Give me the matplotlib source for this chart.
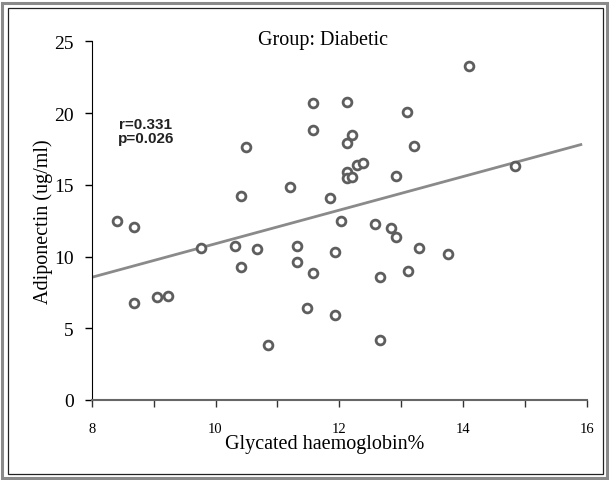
import matplotlib
matplotlib.use("Agg")
import matplotlib.pyplot as plt
from matplotlib.patches import Rectangle

# HbA1c (%) values
hba1c = [8.41, 8.69, 8.68, 9.05, 9.24, 9.77, 10.31, 10.41, 10.41, 10.49,
         10.67, 10.85, 11.21, 11.31, 11.31, 11.48, 11.57, 11.57, 11.57, 11.85,
         11.93, 11.93, 12.03, 12.12, 12.12, 12.21, 12.12, 12.12, 12.20, 12.29,
         12.38, 12.57, 12.84, 12.92, 12.92, 13.09, 13.21, 13.29, 13.11, 12.66,
         12.66, 13.75, 14.10, 14.83]
# Adiponectin (ug/ml) values
adiponectin = [12.50, 12.03, 6.74, 7.20, 7.27, 10.57, 10.71, 14.24, 9.25, 17.61,
               10.52, 3.86, 14.85, 10.76, 9.60, 6.39, 20.72, 18.82, 8.85, 14.10,
               10.32, 5.92, 12.45, 20.75, 17.89, 18.45, 15.92, 15.47, 15.57, 16.35,
               16.50, 12.27, 11.97, 11.36, 15.64, 20.05, 17.73, 10.57, 8.99, 8.60,
               4.18, 10.18, 23.30, 16.33]
# regression line endpoints
fit_x = [8.0, 15.9]
fit_y = [8.55, 17.8]

x_ticks = [8, 9, 10, 11, 12, 13, 14, 15, 16]
x_ticklabels = ["8", "", "10", "", "12", "", "14", "", "16"]
y_ticks = [0, 5, 10, 15, 20, 25]

title = "Group: Diabetic"
xlabel = "Glycated haemoglobin%"
ylabel = "Adiponectin (ug/ml)"
stats_text = "r=0.331\np=0.026"

W, H = 609, 481
fig = plt.figure(figsize=(W / 100, H / 100), dpi=100)
serif = "Liberation Serif"

ax = fig.add_axes([91.7 / W, 1 - 401 / H, (587 - 91.7) / W, (401 - 42.3) / H])
ax.plot(fit_x, fit_y, color="#8a8a8a", lw=2.0, zorder=2)
ax.scatter(hba1c, adiponectin, s=40, facecolors="white", edgecolors="#5e5e5e",
           linewidths=2.0, zorder=3)

ax.set_xlim(8, 16)
ax.set_ylim(0, 25)
ax.set_xticks(x_ticks)
ax.set_xticklabels(x_ticklabels, fontfamily=serif, fontsize=10.5)
ax.set_yticks(y_ticks)
ax.set_yticklabels([str(v) for v in y_ticks], fontfamily=serif, fontsize=14)
ax.tick_params(axis="x", direction="out", length=5, width=1, pad=11, color="#333333")
ax.tick_params(axis="y", direction="out", length=5, width=1, pad=8)
for s in ["top", "right"]:
    ax.spines[s].set_visible(False)
ax.spines["left"].set_color("black")
ax.spines["bottom"].set_color("#666666")
ax.spines["bottom"].set_linewidth(1.5)

ax.set_xlabel(xlabel, fontfamily=serif, fontsize=14.5, labelpad=0)
ax.xaxis.set_label_coords(0.471, -0.095)
ax.set_ylabel(ylabel, fontfamily=serif, fontsize=14.5, labelpad=1)

fig.text(323 / W, 1 - 41 / H, title, fontfamily=serif, fontsize=14.5,
         ha="center", va="center")
fig.text(146 / W, 1 - 132 / H, stats_text, fontfamily="Liberation Sans",
         fontweight="bold", fontsize=11, ha="center", va="center",
         color="#222222", linespacing=1.0)

# double frame
fig.patches.append(Rectangle((2 / W, 2 / H), (W - 4) / W, (H - 6) / H,
                             transform=fig.transFigure, fill=False,
                             edgecolor="#8a8a8a", lw=2.2))
fig.patches.append(Rectangle((7.5 / W, 6 / H), (W - 13.5) / W, (H - 14.5) / H,
                             transform=fig.transFigure, fill=False,
                             edgecolor="#222222", lw=0.9))

fig.savefig("out.png", dpi=100)
